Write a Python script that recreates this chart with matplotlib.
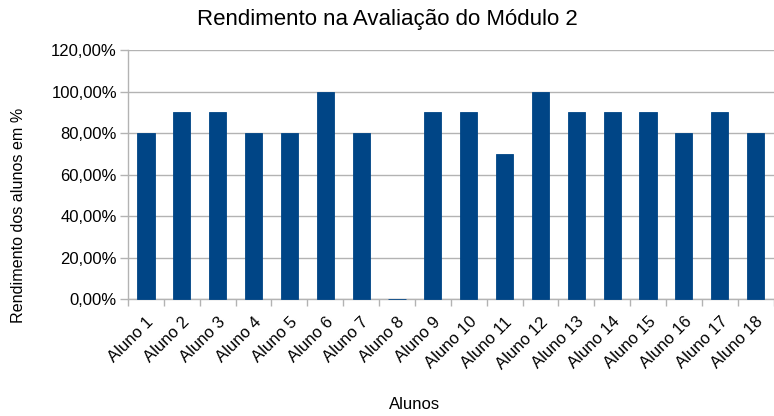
import matplotlib as mpl
mpl.use('Agg')
import numpy as np
import matplotlib.pyplot as plt
import matplotlib.ticker as mticker

alunos = ["Aluno %d" % i for i in range(1, 19)]
rendimento = [80, 90, 90, 80, 80, 100, 80, 0, 90, 90, 70, 100, 90, 90, 90, 80, 90, 80]
yticks = [0, 20, 40, 60, 80, 100, 120]
ytick_labels = ["0,00%", "20,00%", "40,00%", "60,00%", "80,00%", "100,00%", "120,00%"]

plt.rcParams['font.family'] = ['Liberation Sans', 'DejaVu Sans']

fig = plt.figure(figsize=(7.74, 4.16), dpi=100)
ax = fig.add_axes([0.1654, 0.2812, 0.834, 0.5986])

x = np.arange(len(alunos))
bars = ax.bar(x, rendimento, width=0.48, color='#004586', edgecolor='#004586', linewidth=0.6, zorder=3)
for b in bars:
    b.set_clip_on(False)

ax.set_xlim(-0.5, len(alunos) - 0.5)
ax.set_ylim(0, 120)
ax.set_yticks(yticks)
ax.set_yticklabels(ytick_labels, fontsize=12)
ax.yaxis.grid(True, color='#b3b3b3', linewidth=1, zorder=0)

ax.set_xticks(x)
ax.set_xticklabels(alunos, rotation=45, ha='right', rotation_mode='anchor', fontsize=12)
ax.xaxis.set_minor_locator(mticker.FixedLocator(np.arange(-0.5, len(alunos), 1)))
ax.tick_params(axis='x', which='major', length=0, pad=11)
ax.tick_params(axis='x', which='minor', length=5, color='#b3b3b3', width=1)
ax.tick_params(axis='y', length=6, color='#b3b3b3', width=1, pad=2)

for s in ['top', 'right']:
    ax.spines[s].set_visible(False)
for s in ['left', 'bottom']:
    ax.spines[s].set_color('#b3b3b3')
    ax.spines[s].set_linewidth(1)

fig.text(0.501, 0.952, "Rendimento na Avaliação do Módulo 2", ha='center', va='center', fontsize=16)
fig.text(0.535, 0.027, "Alunos", ha='center', va='center', fontsize=12)
fig.text(0.024, 0.483, "Rendimento dos alunos em %", ha='center', va='center', rotation=90, fontsize=11.6)

plt.savefig('out.png', dpi=100)
plt.close()
